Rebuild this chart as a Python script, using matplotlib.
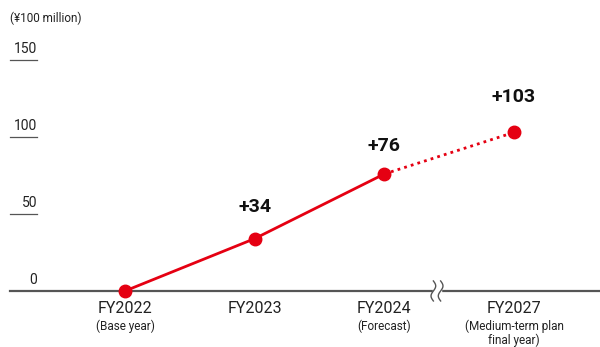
import numpy as np
import matplotlib.pyplot as plt
import matplotlib.transforms as mtransforms

years = ["FY2022", "FY2023", "FY2024", "FY2027"]
notes = ["(Base year)", "", "(Forecast)", "(Medium-term plan\nfinal year)"]
values = [0, 34, 76, 103]
labels = ["", "+34", "+76", "+103"]
yticks = [0, 50, 100, 150]

RED = "#e50012"
GRAY = "#555555"
label_gap = [0, 17, 15, 19.5]  # space between point and its label

plt.rcParams["font.family"] = ["Roboto", "DejaVu Sans"]

fig = plt.figure(figsize=(6.0, 3.47), dpi=100)
ax = fig.add_axes([0, 0, 1, 1])
ax.set_xlim(-0.964, 3.663)
ax.set_ylim(-36.4, 189)
ax.axis("off")

x = np.arange(len(years))

# baseline
trans = mtransforms.blended_transform_factory(ax.transAxes, ax.transData)
ax.plot([10 / 600, 1], [0, 0], color=GRAY, lw=1.6, transform=trans, zorder=1)

# y ticks: short underline with label above
for v in yticks:
    if v > 0:
        ax.plot([10 / 600, 37 / 600], [v, v], color=GRAY, lw=0.9, transform=trans)
    ax.text(37 / 600, v + 2.5, str(v), transform=trans, ha="right", va="bottom",
            fontsize=10, color="#222222")

fig.text(10 / 600, 1 - 18 / 347, "(\u00a5100 million)", ha="left", va="center",
         fontsize=8.5, color="#222222")

# lines
ax.plot(x[:3], values[:3], color=RED, lw=2, zorder=3)
ax.plot(x[2:], values[2:], color=RED, lw=2, ls=(0, (1, 1.5)), zorder=3)
ax.plot(x, values, "o", color=RED, ms=9, zorder=4)

for xi, v, lab, g in zip(x, values, labels, label_gap):
    if lab:
        ax.text(xi, v + g, lab, ha="center", va="baseline", fontsize=14,
                fontweight="bold", color="#111111")

# x labels
for xi, yr, nt in zip(x, years, notes):
    ax.text(xi, -6.5, yr, ha="center", va="top", fontsize=11.5, color="#222222")
    if nt:
        ax.text(xi, -18.5, nt, ha="center", va="top", fontsize=8.5,
                color="#222222", linespacing=1.05)

# axis break mark
bx = 2.406
t = np.linspace(-6.5, 6.5, 60)
ax.fill_betweenx([-2, 2], bx - 0.03, bx + 0.03, color="white", zorder=2)
for dx in (-0.028, 0.028):
    ax.plot(bx + dx + 0.018 * np.sin(t / 6.5 * np.pi), t, color=GRAY, lw=1.0, zorder=2)

fig.savefig("out.png", dpi=100)
